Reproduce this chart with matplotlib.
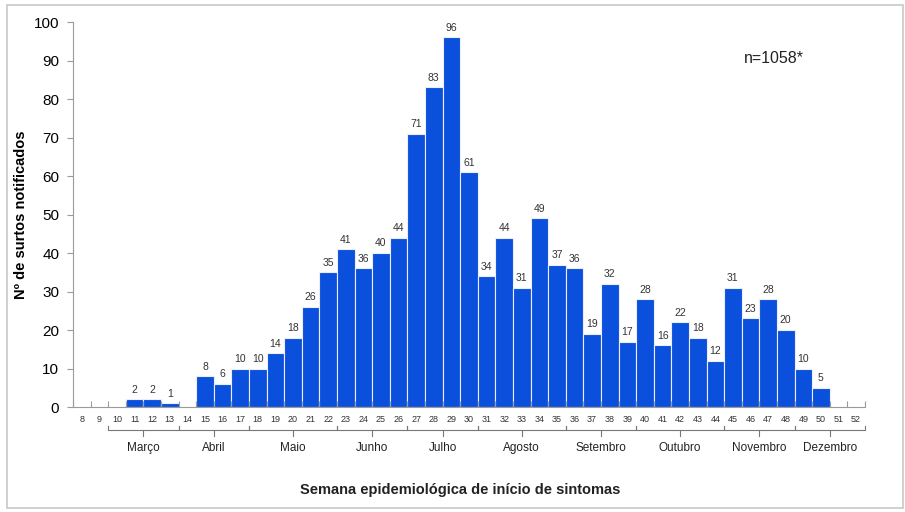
import matplotlib.pyplot as plt
from matplotlib.patches import Rectangle

plt.rcParams['font.family'] = ['Liberation Sans', 'DejaVu Sans']

# dados: semana epidemiológica -> nº de surtos
semanas = list(range(8, 53))
semanas_barras = list(range(11, 51))
surtos = [2, 2, 1, 0, 8, 6, 10, 10, 14, 18, 26, 35, 41, 36, 40, 44, 71, 83, 96, 61,
          34, 44, 31, 49, 37, 36, 19, 32, 17, 28, 16, 22, 18, 12, 31, 23, 28, 20, 10, 5]
meses = ['Março', 'Abril', 'Maio', 'Junho', 'Julho', 'Agosto',
         'Setembro', 'Outubro', 'Novembro', 'Dezembro']
mes_inicio = [10, 14, 18, 23, 27, 31, 36, 40, 45, 49]
mes_fim = [13, 17, 22, 26, 30, 35, 39, 44, 48, 52]

cor_barra = '#0b50dc'
cinza = '#9a9a9a'

fig = plt.figure(figsize=(9.05, 5.12), dpi=100)
ax = fig.add_axes([0.0807, 0.205, 0.875, 0.752])

ax.bar(semanas_barras, surtos, width=1.0, color=cor_barra, edgecolor='#e8eefc', linewidth=0.8)

for s, v in zip(semanas_barras, surtos):
    if v > 0:
        ax.text(s, v + 1.2, str(v), ha='center', va='bottom', fontsize=7.5, color='#333333')

ax.set_xlim(7.5, 52.5)
ax.set_ylim(0, 100)
ax.set_yticks(range(0, 101, 10))
ax.tick_params(axis='y', direction='out', length=4, color=cinza, labelsize=11, pad=6)

# eixo x: marcas entre as semanas, rótulos desenhados à mão
ax.set_xticks([s + 0.5 for s in semanas[:-1]] + [7.5, 52.5])
ax.tick_params(axis='x', direction='in', length=4, color=cinza, labelbottom=False)

for sp in ['top', 'right']:
    ax.spines[sp].set_visible(False)
ax.spines['left'].set_color(cinza)
ax.spines['bottom'].set_color(cinza)

tr = ax.get_xaxis_transform()
for s in semanas:
    ax.text(s, -0.033, str(s), transform=tr, ha='center', va='center', fontsize=6.5, color='#333333')

# chaves dos meses
for nome, a, b in zip(meses, mes_inicio, mes_fim):
    x0, x1 = a - 0.5, b + 0.5
    xm = (x0 + x1) / 2
    ax.plot([x0, x0, x1, x1], [-0.05, -0.06, -0.06, -0.05], transform=tr, clip_on=False,
            color='#777777', linewidth=0.8)
    ax.plot([xm, xm], [-0.06, -0.075], transform=tr, clip_on=False, color='#777777', linewidth=0.8)
    ax.text(xm, -0.107, nome, transform=tr, ha='center', va='center', fontsize=8.5, color='#222222')

ax.set_ylabel('Nº de surtos notificados', fontsize=10.5, fontweight='bold', labelpad=4)
fig.text(0.508, 0.043, 'Semana epidemiológica de início de sintomas', ha='center', va='center',
         fontsize=10.5, fontweight='bold', color='#222222')
ax.text(0.885, 0.905, 'n=1058*', transform=ax.transAxes, ha='center', va='center', fontsize=11.5,
        color='#222222')

# moldura da figura
fig.patches.append(Rectangle((0.008, 0.008), 0.990, 0.982, transform=fig.transFigure,
                             fill=False, edgecolor='#c8c8c8', linewidth=1.2))

fig.savefig('out.png', dpi=100)
